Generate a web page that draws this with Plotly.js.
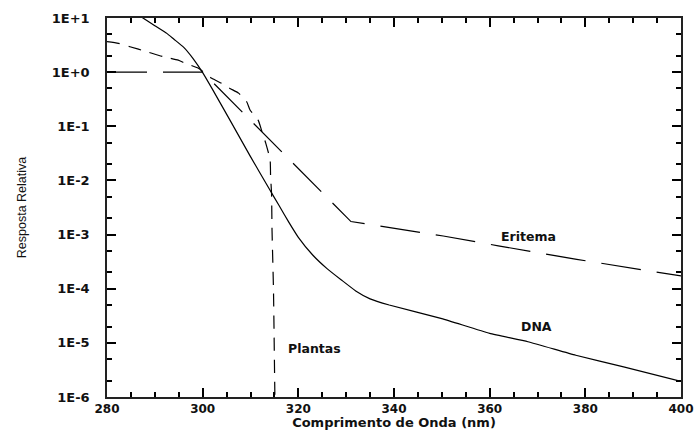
<!DOCTYPE html>
<html>
<head>
<meta charset="utf-8">
<script src="https://cdn.plot.ly/plotly-3.0.1.min.js"></script>
<style>html,body{margin:0;padding:0;background:#fff;}#chart{width:695px;height:430px;}</style>
</head>
<body>
<div id="chart"></div>
<script>
// DNA action spectrum (solid)
const dnaX = [286, 287.6, 290, 292.5, 294, 296, 298, 300, 302, 306, 310, 314, 316, 318, 320, 323, 326, 329, 332, 335, 339, 350, 360, 368, 378, 388, 400];
const dnaY = [12.3, 9.9, 7.2, 5.2, 4.05, 2.9, 1.78, 0.98, 0.49, 0.117, 0.0275, 0.0068, 0.0034, 0.0017, 8.9e-4, 4.2e-4, 2.35e-4, 1.45e-4, 9.1e-5, 6.5e-5, 5.0e-5, 2.8e-5, 1.5e-5, 1.05e-5, 5.9e-6, 3.6e-6, 1.95e-6];

// Erythema action spectrum (long dash)
const eriX = [280, 300, 331, 350.3, 361.8, 378.2, 400];
const eriY = [1, 1, 1.74e-3, 9.4e-4, 6.2e-4, 3.49e-4, 1.72e-4];

// Plant action spectrum (short dash)
const plaX = [280, 282.4, 284.8, 288.3, 291.8, 294.9, 296.3, 299.1, 301.9, 304.0, 305.7, 307.5, 309.2, 309.9, 311.6, 312.3, 313.2, 314.1, 314.2, 314.4, 314.5, 314.8, 315.1, 315.2];
const plaY = [3.65, 3.4, 2.95, 2.39, 1.93, 1.67, 1.46, 1.18, 0.77, 0.62, 0.50, 0.41, 0.284, 0.20, 0.13, 0.085, 0.0485, 0.024, 0.0118, 0.0058, 0.0012, 1e-4, 1e-6, 4e-7];

// Axis ticks
const yTickVals = [10, 1, 0.1, 0.01, 0.001, 0.0001, 0.00001, 0.000001];
const yTickText = ['1E+1', '1E+0', '1E-1', '1E-2', '1E-3', '1E-4', '1E-5', '1E-6'];
const xTickVals = [280, 300, 320, 340, 360, 380, 400];
const xTickText = ['280', '300', '320', '340', '360', '380', '400'];
const xMinorStep = 5;

const labels = [
  {text: 'Eritema', x: 368.2, y: 9.4e-4},
  {text: 'DNA', x: 369.8, y: 2.0e-5},
  {text: 'Plantas', x: 323.4, y: 7.9e-6}
];

const lineStyle = {color: '#000', width: 1.2};
const traces = [
  {x: dnaX, y: dnaY, mode: 'lines', line: Object.assign({}, lineStyle, {dash: 'solid', shape: 'spline', smoothing: 0.4})},
  {x: eriX, y: eriY, mode: 'lines', line: Object.assign({}, lineStyle, {dash: '40px,16px'})},
  {x: plaX, y: plaY, mode: 'lines', line: Object.assign({}, lineStyle, {dash: '13px,9px', shape: 'spline', smoothing: 0.5})}
];

const FONT = 'DejaVu Sans, Verdana, sans-serif';
const AF = 'Liberation Sans, Arial, sans-serif';
const AX = 'black';

const layout = {
  width: 695, height: 430,
  margin: {l: 107, r: 14, t: 18, b: 33},
  showlegend: false,
  xaxis: {
    range: [280, 400], tickmode: 'array', tickvals: xTickVals, ticktext: xTickText,
    ticks: 'inside', ticklen: 9, tickwidth: 2, tickcolor: AX,
    showline: true, linecolor: '#222', linewidth: 1.5, mirror: 'ticks',
    showgrid: false, zeroline: false, tickfont: {family: FONT, size: 12, color: '#111', weight: 'bold'},
    minor: {tickmode: 'linear', tick0: 280, dtick: xMinorStep, ticks: 'inside', ticklen: 5, tickwidth: 2, tickcolor: AX, showgrid: false},
    title: {text: 'Comprimento de Onda (nm)', standoff: 1, font: {family: FONT, size: 13, color: '#111', weight: 'bold'}}
  },
  yaxis: {
    type: 'log', range: [-6, 1], tickmode: 'array', tickvals: yTickVals, ticktext: yTickText,
    ticks: 'inside', ticklen: 9, tickwidth: 2, tickcolor: AX,
    showline: true, linecolor: '#222', linewidth: 1.5, mirror: 'ticks',
    showgrid: false, zeroline: false, tickfont: {family: FONT, size: 13, color: '#111', weight: 'bold'}, ticklabelstandoff: 13,
    minor: {ticks: 'inside', ticklen: 5, tickwidth: 2, tickcolor: AX, showgrid: false},
    title: {text: 'Resposta Relativa', standoff: 22, font: {family: AF, size: 12.5, color: '#111'}}
  },
  annotations: labels.map(l => ({
    text: l.text, x: l.x, y: Math.log10(l.y), xref: 'x', yref: 'y', showarrow: false,
    font: {family: FONT, size: 12.5, color: '#111', weight: 'bold'}
  }))
};

Plotly.newPlot('chart', traces, layout, {displayModeBar: false});
</script>
</body>
</html>
